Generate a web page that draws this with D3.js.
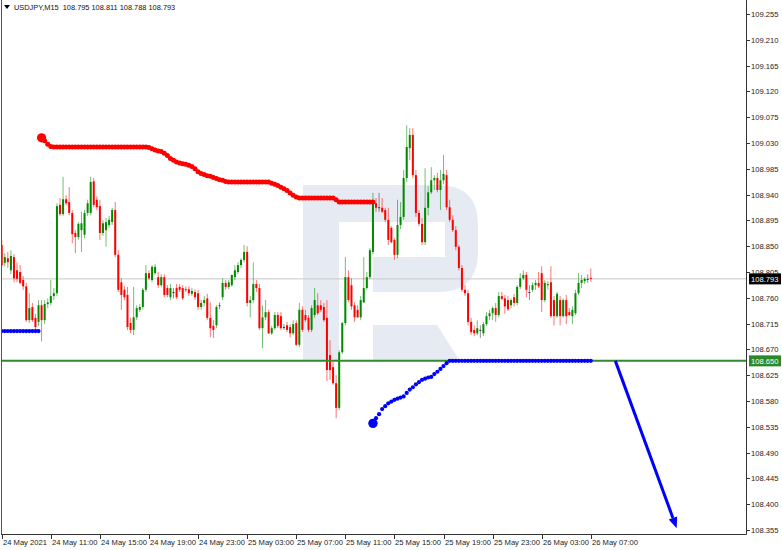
<!DOCTYPE html>
<html><head><meta charset="utf-8">
<script src="https://cdn.jsdelivr.net/npm/d3@7"></script>
<style>
body{margin:0;background:#fff;}
svg{display:block;}
text{font-family:"Liberation Sans",Arial,sans-serif;}
</style>
</head><body>
<svg id="chart" width="782" height="550"></svg>
<script>
// ---------- DATA ----------
const symbol = "USDJPY,M15";
const headerValues = ["108.795", "108.811", "108.788", "108.793"];

const opens = [108.852,108.821,108.829,108.808,108.831,108.808,108.805,108.791,108.780,108.721,
108.744,108.725,108.718,108.747,108.721,108.749,108.751,108.763,108.768,108.922,
108.906,108.932,108.927,108.908,108.873,108.866,108.878,108.870,108.908,108.908,
108.963,108.931,108.920,108.873,108.878,108.887,108.892,108.913,108.835,108.787,
108.774,108.765,108.716,108.704,108.726,108.739,108.744,108.774,108.803,108.791,
108.803,108.796,108.782,108.796,108.777,108.761,108.770,108.777,108.779,108.777,
108.775,108.775,108.767,108.770,108.768,108.744,108.751,108.759,108.725,108.711,
108.712,108.747,108.761,108.786,108.779,108.782,108.796,108.805,108.817,108.826,
108.840,108.751,108.756,108.784,108.777,108.707,108.726,108.735,108.698,108.707,
108.730,108.728,108.709,108.712,108.709,108.698,108.716,108.678,108.739,108.730,
108.725,108.704,108.730,108.747,108.747,108.744,108.725,108.660,108.639,108.611,
108.568,108.665,108.716,108.796,108.782,108.747,108.739,108.726,108.752,108.777,
108.796,108.840,108.925,108.918,108.917,108.913,108.896,108.882,108.861,108.835,
108.887,108.901,108.969,109.021,109.044,108.974,108.908,108.889,108.857,108.917,
108.944,108.965,108.969,108.948,108.965,108.974,108.918,108.896,108.878,108.849,
108.812,108.774,108.768,108.718,108.704,108.698,108.704,108.698,108.714,108.728,
108.733,108.742,108.730,108.763,108.759,108.756,108.747,108.761,108.751,108.779,
108.794,108.800,108.770,108.774,108.782,108.786,108.803,108.756,108.782,108.787,
108.756,108.728,108.756,108.728,108.756,108.735,108.728,108.733,108.768,108.786,
108.789,108.793,108.795];
const highs = [108.861,108.838,108.840,108.843,108.836,108.822,108.817,108.798,108.786,108.768,
108.751,108.732,108.756,108.756,108.756,108.759,108.791,108.777,108.925,108.934,
108.971,108.939,108.953,108.913,108.878,108.892,108.910,108.913,108.931,108.971,
108.969,108.937,108.931,108.896,108.899,108.903,108.917,108.927,108.843,108.794,
108.780,108.779,108.725,108.779,108.747,108.749,108.777,108.817,108.808,108.817,
108.819,108.805,108.801,108.801,108.782,108.784,108.777,108.784,108.784,108.782,
108.780,108.780,108.777,108.775,108.774,108.756,108.763,108.767,108.752,108.721,
108.747,108.752,108.794,108.791,108.791,108.800,108.817,108.822,108.829,108.852,
108.850,108.763,108.822,108.791,108.784,108.747,108.756,108.739,108.711,108.735,
108.735,108.735,108.714,108.718,108.714,108.721,108.721,108.751,108.745,108.739,
108.730,108.747,108.777,108.768,108.756,108.751,108.756,108.686,108.648,108.625,
108.669,108.718,108.831,108.808,108.794,108.752,108.747,108.763,108.831,108.805,
108.847,108.943,108.934,108.943,108.934,108.917,108.917,108.885,108.864,108.931,
108.927,108.983,109.061,109.056,109.056,108.983,108.913,108.899,108.986,108.955,
108.988,108.974,108.978,108.983,109.009,108.983,108.931,108.904,108.885,108.852,
108.817,108.782,108.774,108.725,108.712,108.721,108.712,108.718,108.735,108.739,
108.745,108.751,108.770,108.770,108.765,108.763,108.759,108.767,108.782,108.803,
108.808,108.805,108.782,108.787,108.791,108.805,108.815,108.791,108.789,108.815,
108.763,108.770,108.763,108.759,108.765,108.742,108.745,108.774,108.803,108.800,
108.796,108.801,108.811];
const lows = [108.812,108.815,108.812,108.801,108.787,108.787,108.784,108.774,108.718,108.716,
108.718,108.704,108.711,108.684,108.714,108.742,108.747,108.756,108.763,108.903,
108.903,108.922,108.904,108.855,108.838,108.861,108.840,108.864,108.903,108.904,
108.918,108.913,108.861,108.868,108.849,108.882,108.887,108.831,108.770,108.739,
108.756,108.704,108.698,108.695,108.721,108.735,108.740,108.770,108.791,108.787,
108.800,108.777,108.779,108.761,108.761,108.756,108.759,108.758,108.770,108.756,
108.770,108.763,108.763,108.756,108.739,108.739,108.745,108.721,108.691,108.690,
108.707,108.740,108.756,108.774,108.775,108.779,108.791,108.801,108.812,108.822,
108.745,108.726,108.751,108.770,108.704,108.672,108.721,108.697,108.695,108.704,
108.707,108.704,108.704,108.700,108.691,108.695,108.676,108.674,108.700,108.718,
108.700,108.700,108.725,108.730,108.735,108.718,108.615,108.617,108.608,108.550,
108.564,108.662,108.712,108.752,108.739,108.718,108.725,108.721,108.751,108.774,
108.793,108.836,108.910,108.910,108.908,108.892,108.852,108.855,108.826,108.829,
108.880,108.896,108.962,109.000,108.969,108.901,108.885,108.852,108.852,108.904,
108.941,108.948,108.944,108.913,108.958,108.913,108.892,108.875,108.843,108.808,
108.770,108.763,108.712,108.695,108.693,108.695,108.690,108.693,108.711,108.721,
108.721,108.718,108.726,108.756,108.732,108.737,108.742,108.745,108.747,108.775,
108.791,108.761,108.756,108.770,108.774,108.777,108.735,108.752,108.774,108.725,
108.712,108.725,108.712,108.725,108.714,108.728,108.714,108.730,108.765,108.777,
108.784,108.786,108.788];
const closes = [108.817,108.831,108.822,108.833,108.794,108.793,108.786,108.780,108.721,108.742,
108.721,108.709,108.747,108.721,108.749,108.752,108.763,108.768,108.920,108.906,
108.932,108.925,108.908,108.871,108.866,108.889,108.890,108.908,108.925,108.962,
108.922,108.918,108.873,108.890,108.892,108.896,108.913,108.835,108.774,108.765,
108.761,108.709,108.704,108.726,108.742,108.744,108.774,108.803,108.794,108.814,
108.814,108.782,108.796,108.765,108.765,108.777,108.770,108.761,108.774,108.759,
108.774,108.768,108.772,108.761,108.744,108.751,108.756,108.725,108.707,108.704,
108.744,108.747,108.786,108.779,108.787,108.800,108.808,108.817,108.826,108.840,
108.751,108.756,108.784,108.777,108.707,108.726,108.735,108.698,108.707,108.730,
108.711,108.707,108.709,108.704,108.698,108.714,108.678,108.739,108.704,108.721,
108.704,108.742,108.756,108.733,108.739,108.721,108.634,108.634,108.611,108.568,
108.665,108.716,108.796,108.756,108.745,108.726,108.726,108.756,108.777,108.796,
108.843,108.925,108.917,108.918,108.910,108.896,108.861,108.857,108.835,108.887,
108.901,108.969,109.023,109.044,108.974,108.908,108.889,108.857,108.917,108.944,
108.965,108.969,108.948,108.965,108.976,108.918,108.896,108.878,108.849,108.812,
108.774,108.768,108.718,108.700,108.698,108.707,108.704,108.714,108.728,108.733,
108.742,108.730,108.763,108.758,108.745,108.740,108.756,108.751,108.779,108.794,
108.800,108.774,108.770,108.782,108.786,108.780,108.756,108.786,108.784,108.728,
108.728,108.767,108.728,108.756,108.728,108.730,108.739,108.768,108.786,108.791,
108.793,108.793,108.793];

const timeLabels = ["24 May 2021","24 May 11:00","24 May 15:00","24 May 19:00","24 May 23:00",
"25 May 03:00","25 May 07:00","25 May 11:00","25 May 15:00","25 May 19:00","25 May 23:00",
"26 May 03:00","26 May 07:00"];
const timeLabelBars = [0,16,32,48,64,80,96,112,128,144,160,176,192];

const priceTicks = [109.255,109.210,109.165,109.120,109.075,109.030,108.985,108.940,108.895,108.850,
108.805,108.760,108.715,108.670,108.625,108.580,108.535,108.490,108.445,108.400,108.355];

const bidPrice = 108.793;
const levelPrice = 108.650;

// red dotted indicator line, starts at bar 13
const redStart = 13;
const redLine = [109.039,109.034,109.028,109.024,
109.023,109.023,109.023,109.023,109.023,109.023,109.023,109.023,109.023,109.023,
109.023,109.023,109.023,109.023,109.023,109.023,109.023,109.023,109.023,109.023,
109.023,109.023,109.023,109.023,109.023,109.023,109.023,109.023,109.023,109.023,109.023,
109.022,109.020,109.018,109.016,109.015,109.012,109.008,109.003,109.000,108.997,
108.995,108.994,108.993,108.991,108.989,108.985,108.980,108.977,108.975,108.973,
108.972,108.970,108.968,108.966,108.965,108.963,
108.962,108.962,108.962,108.962,108.962,108.962,108.962,108.962,108.962,108.962,108.962,108.962,108.962,108.962,
108.960,108.958,108.956,108.953,108.950,108.947,108.943,108.939,108.936,108.934,
108.934,108.934,108.934,108.934,108.934,108.934,108.934,108.934,108.934,108.934,108.934,
108.931,
108.927,108.927,108.927,108.927,108.927,108.927,108.927,108.927,108.927,108.927,108.927,108.927];

// blue dotted indicator lines
const blueAStart = 0;
const blueLineA = [108.702,108.702,108.702,108.702,108.702,108.702,108.702,108.702,108.702,108.702,108.702,108.702,108.702];
const blueBStart = 121;
const blueLineB = [108.541,108.550,108.557,108.566,108.571,108.576,108.579,108.582,108.584,108.586,
108.588,108.594,108.600,108.604,108.609,108.613,108.617,108.619,108.621,108.622,
108.627,108.631,108.636,108.641,108.646,
108.650,108.650,108.650,108.650,108.650,108.650,108.650,108.650,108.650,108.650,
108.650,108.650,108.650,108.650,108.650,108.650,108.650,108.650,108.650,108.650,
108.650,108.650,108.650,108.650,108.650,108.650,108.650,108.650,108.650,108.650,
108.650,108.650,108.650,108.650,108.650,108.650,108.650,108.650,108.650,108.650,
108.650,108.650,108.650,108.650,108.650,108.650,108.650];

// forecast arrow (bar index, price)
const arrowFrom = [200, 108.650];
const arrowTo = [220, 108.358];

// ---------- DRAW ----------
const svg = d3.select("#chart");
const W = 782, H = 550;
const plotRight = 746, plotBottom = 534;

const x = d3.scaleLinear().domain([0, 192]).range([1.7, 590.8]);
const y = d3.scaleLinear().domain([108.355, 109.255]).range([530, 14]);

svg.append("rect").attr("width", W).attr("height", H).attr("fill", "#fff");

svg.append("defs").append("clipPath").attr("id", "plot")
  .append("rect").attr("x", 1).attr("y", 0).attr("width", plotRight - 1).attr("height", plotBottom);

const plot = svg.append("g").attr("clip-path", "url(#plot)");

// watermark logo
const logoColor = "#e6ebf3";
plot.append("path").attr("fill", logoColor)
  .attr("d", "M303,185 H438 Q478,185 478,225 V252 Q478,292 438,292 H373 V257 H445 V222 H339 V361 H303 Z");
plot.append("path").attr("fill", logoColor)
  .attr("d", "M373,325 H437 L460,361 H373 Z");

// bid line
plot.append("line").attr("x1", 0).attr("x2", plotRight).attr("y1", y(bidPrice)).attr("y2", y(bidPrice))
  .attr("stroke", "#c8c8c8").attr("stroke-width", 1);

// candles
const bars = opens.map((o, i) => ({ i, o, h: highs[i], l: lows[i], c: closes[i] }));
const colorOf = d => d.c > d.o ? "#008a00" : (d.c < d.o ? "#ff0000" : "#333333");
const cg = plot.append("g");
cg.selectAll("line.wick").data(bars).join("line").attr("class", "wick")
  .attr("x1", d => x(d.i)).attr("x2", d => x(d.i))
  .attr("y1", d => y(d.h)).attr("y2", d => y(d.l))
  .attr("stroke", colorOf).attr("stroke-opacity", 0.55).attr("stroke-width", 1);
cg.selectAll("rect.body").data(bars).join("rect").attr("class", "body")
  .attr("x", d => x(d.i) - 1).attr("width", 2)
  .attr("y", d => y(Math.max(d.o, d.c)))
  .attr("height", d => Math.max(1, Math.abs(y(d.o) - y(d.c))))
  .attr("fill", colorOf);

// level line
plot.append("line").attr("x1", 0).attr("x2", plotRight).attr("y1", y(levelPrice)).attr("y2", y(levelPrice))
  .attr("stroke", "#2e8b2e").attr("stroke-width", 2);

// red dotted line
const redPts = redLine.map((v, k) => ({ i: redStart + k, v }));
plot.append("g").selectAll("circle").data(redPts).join("circle")
  .attr("cx", d => x(d.i)).attr("cy", d => y(d.v)).attr("r", 2.5).attr("fill", "#ff0000");
plot.append("circle").attr("cx", x(redPts[0].i)).attr("cy", y(redPts[0].v)).attr("r", 4.6).attr("fill", "#ff0000");

// blue dotted lines
const bluePtsA = blueLineA.map((v, k) => ({ i: blueAStart + k, v }));
const bluePtsB = blueLineB.map((v, k) => ({ i: blueBStart + k, v }));
const bg = plot.append("g");
bg.selectAll("circle.a").data(bluePtsA).join("circle").attr("class", "a")
  .attr("cx", d => x(d.i)).attr("cy", d => y(d.v)).attr("r", 2.1).attr("fill", "#0000ff");
bg.selectAll("circle.b").data(bluePtsB).join("circle").attr("class", "b")
  .attr("cx", d => x(d.i)).attr("cy", d => y(d.v)).attr("r", 2.1).attr("fill", "#0000ff");
bg.append("circle").attr("cx", x(bluePtsB[0].i)).attr("cy", y(bluePtsB[0].v)).attr("r", 4.7).attr("fill", "#0000ff");

// arrow
const ax1 = x(arrowFrom[0]), ay1 = y(arrowFrom[1]);
const ax2 = x(arrowTo[0]), ay2 = y(arrowTo[1]);
const ang = Math.atan2(ay2 - ay1, ax2 - ax1);
const headLen = 11, headW = 4.5;
const bx = ax2 - headLen * Math.cos(ang), by = ay2 - headLen * Math.sin(ang);
plot.append("line").attr("x1", ax1).attr("y1", ay1).attr("x2", bx).attr("y2", by)
  .attr("stroke", "#0000ff").attr("stroke-width", 3);
plot.append("path").attr("fill", "#0000ff")
  .attr("d", `M${ax2},${ay2} L${bx + headW * Math.sin(ang)},${by - headW * Math.cos(ang)} L${bx - headW * Math.sin(ang)},${by + headW * Math.cos(ang)} Z`);

// frame
svg.append("line").attr("x1", 1.5).attr("x2", 1.5).attr("y1", 0).attr("y2", plotBottom).attr("stroke", "#555");
svg.append("line").attr("x1", plotRight + 0.5).attr("x2", plotRight + 0.5).attr("y1", 0).attr("y2", plotBottom + 0.5).attr("stroke", "#333");
svg.append("line").attr("x1", 1).attr("x2", plotRight + 0.5).attr("y1", plotBottom + 0.5).attr("y2", plotBottom + 0.5).attr("stroke", "#333");

// right axis
const ra = svg.append("g");
ra.selectAll("line").data(priceTicks).join("line")
  .attr("x1", plotRight).attr("x2", plotRight + 4)
  .attr("y1", d => Math.round(y(d)) + 0.5).attr("y2", d => Math.round(y(d)) + 0.5)
  .attr("stroke", "#333");
ra.selectAll("text").data(priceTicks).join("text")
  .attr("x", plotRight + 5).attr("y", d => y(d) + 3)
  .attr("font-size", 7.6).attr("fill", "#222")
  .text(d => d.toFixed(3));

// price boxes
function priceBox(p, bgc) {
  const cy = y(p);
  svg.append("rect").attr("x", plotRight + 3).attr("y", cy - 5.5).attr("width", 32).attr("height", 11).attr("fill", bgc);
  svg.append("text").attr("x", plotRight + 5).attr("y", cy + 3).attr("font-size", 7.6).attr("fill", "#fff")
    .text(p.toFixed(3));
}
priceBox(bidPrice, "#000");
priceBox(levelPrice, "#2a8a2a");

// bottom axis
const ba = svg.append("g");
ba.selectAll("line").data(timeLabelBars).join("line")
  .attr("x1", d => Math.round(x(d)) + 0.5).attr("x2", d => Math.round(x(d)) + 0.5)
  .attr("y1", plotBottom).attr("y2", plotBottom + 5).attr("stroke", "#333");
ba.selectAll("text").data(timeLabelBars).join("text")
  .attr("x", d => Math.round(x(d)) + 1).attr("y", plotBottom + 11)
  .attr("font-size", 7.6).attr("fill", "#222")
  .text((d, k) => timeLabels[k]);

// header
svg.append("path").attr("d", "M4,5 L10,5 L7,9 Z").attr("fill", "#000");
svg.append("text").attr("x", 14).attr("y", 10).attr("font-size", 7.4).attr("fill", "#111")
  .style("white-space", "pre")
  .text(symbol + "  " + headerValues.join(" "));
</script>
</body></html>
